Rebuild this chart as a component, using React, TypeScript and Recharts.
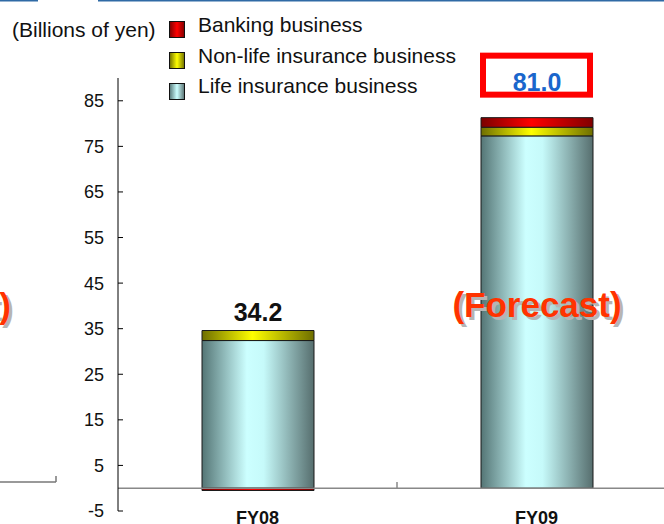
import React from "react";
import { BarChart, Bar, XAxis, YAxis, ReferenceLine, LabelList } from "recharts";

const years = ["FY08", "FY09"];
const lifeValues = [32.4, 77.3];
const nonLifeValues = [2.2, 1.9];
const bankingValues = [-0.5, 2.1];
const totalLabels = ["34.2", "81.0"];
const yTicks = [-5, 5, 15, 25, 35, 45, 55, 65, 75, 85];

const legendItems = [
  { label: "Banking business", grad: "lgRed" },
  { label: "Non-life insurance business", grad: "lgYellow" },
  { label: "Life insurance business", grad: "lgLife" },
];

const data = years.map((name, i) => ({
  name,
  life: lifeValues[i],
  nonLife: nonLifeValues[i],
  banking: bankingValues[i],
}));

const FONT = "Arial, 'Liberation Sans', sans-serif";
const CHART_W = 676;
const CHART_H = 524;
const Y_W = 118;
const BAND = (CHART_W - Y_W) / years.length;

const YTick = (props: any) => {
  const { x, y, payload } = props;
  return (
    <g>
      <line x1={x + 14} x2={x + 19} y1={y} y2={y} stroke="#000" />
      <text x={x} y={y} dy="0.36em" textAnchor="end" fontSize={18} fontFamily={FONT} fill="#111">
        {payload.value}
      </text>
    </g>
  );
};

const XTick = (props: any) => {
  const { x, y, payload, index } = props;
  return (
    <g>
      <text x={x} y={y + 13} textAnchor="middle" fontSize={18} fontWeight="bold" fontFamily={FONT} fill="#111">
        {payload.value}
      </text>
      {index < years.length - 1 && (
        <line x1={x + BAND / 2} x2={x + BAND / 2} y1={y - 29} y2={y - 23} stroke="#888" strokeWidth={1.5} />
      )}
    </g>
  );
};

const rectOf = (props: any) => {
  const vb = props.viewBox || {};
  return {
    x: props.x ?? vb.x,
    y: props.y ?? vb.y,
    width: props.width ?? vb.width,
  };
};

// FY08 total sits on the non-life segment
const Label08 = (props: any) => {
  if (props.value !== years[0]) return null;
  const { x, y, width } = rectOf(props);
  return (
    <text x={x + width / 2} y={y - 10} textAnchor="middle" fontSize={25} fontWeight="bold" fontFamily={FONT} fill="#111">
      {totalLabels[0]}
    </text>
  );
};

// FY09 total in the red box above the banking segment
const Label09 = (props: any) => {
  if (props.value !== years[1]) return null;
  const { x, y, width } = rectOf(props);
  return (
    <g>
      <rect x={x + 2} y={y - 62} width={width - 5} height={39} fill="#fff" stroke="#ff0000" strokeWidth={6} />
      <text x={x + width / 2} y={y - 27} textAnchor="middle" fontSize={25} fontWeight="bold" fontFamily={FONT} fill="#1a66cc">
        {totalLabels[1]}
      </text>
    </g>
  );
};

const gradients = (
  <defs>
    <linearGradient id="lgLife" x1="0" y1="0" x2="1" y2="0">
      <stop offset="0" stopColor="#547575" />
      <stop offset="0.4" stopColor="#ccffff" />
      <stop offset="0.55" stopColor="#c6fafa" />
      <stop offset="1" stopColor="#566e6e" />
    </linearGradient>
    <linearGradient id="lgYellow" x1="0" y1="0" x2="1" y2="0">
      <stop offset="0" stopColor="#6e6e00" />
      <stop offset="0.45" stopColor="#ffff00" />
      <stop offset="1" stopColor="#6e6e00" />
    </linearGradient>
    <linearGradient id="lgRed" x1="0" y1="0" x2="1" y2="0">
      <stop offset="0" stopColor="#7a0000" />
      <stop offset="0.45" stopColor="#ff0000" />
      <stop offset="1" stopColor="#800000" />
    </linearGradient>
  </defs>
);

const App = () => {
  return (
    <div style={{ position: "absolute", left: 0, top: 0, width: 664, height: 524, overflow: "hidden", background: "#fff" }}>
      <BarChart
        width={CHART_W}
        height={CHART_H}
        data={data}
        stackOffset="sign"
        barSize={112}
        margin={{ top: 78, right: 0, bottom: 0, left: 0 }}
      >
        {gradients}
        <XAxis
          dataKey="name"
          height={13}
          axisLine={false}
          tickLine={false}
          tickSize={0}
          tickMargin={0}
          interval={0}
          tick={XTick}
        />
        <YAxis
          type="number"
          domain={[-5, 90]}
          ticks={yTicks}
          interval={0}
          width={Y_W}
          tickSize={0}
          tickMargin={14}
          tickLine={false}
          axisLine={{ stroke: "#000" }}
          tick={YTick}
        />
        <ReferenceLine y={0} stroke="#888" strokeWidth={1.5} />
        <Bar dataKey="life" stackId="a" fill="url(#lgLife)" stroke="#1a1a1a" strokeWidth={1} isAnimationActive={false} />
        <Bar dataKey="nonLife" stackId="a" fill="url(#lgYellow)" stroke="#1a1a1a" strokeWidth={1} isAnimationActive={false}>
          <LabelList dataKey="name" content={Label08} />
        </Bar>
        <Bar dataKey="banking" stackId="a" fill="url(#lgRed)" stroke="#1a1a1a" strokeWidth={1} isAnimationActive={false}>
          <LabelList dataKey="name" content={Label09} />
        </Bar>
      </BarChart>

      <svg width={664} height={524} style={{ position: "absolute", left: 0, top: 0, pointerEvents: "none" }}>
        <defs>
          <linearGradient id="lgLife2" x1="0" y1="0" x2="1" y2="0">
            <stop offset="0" stopColor="#567777" />
            <stop offset="0.5" stopColor="#ccffff" />
            <stop offset="1" stopColor="#587070" />
          </linearGradient>
          <linearGradient id="lgYellow2" x1="0" y1="0" x2="1" y2="0">
            <stop offset="0" stopColor="#6e6e00" />
            <stop offset="0.5" stopColor="#ffff00" />
            <stop offset="1" stopColor="#6e6e00" />
          </linearGradient>
          <linearGradient id="lgRed2" x1="0" y1="0" x2="1" y2="0">
            <stop offset="0" stopColor="#7a0000" />
            <stop offset="0.5" stopColor="#ff0000" />
            <stop offset="1" stopColor="#800000" />
          </linearGradient>
        </defs>
        <rect x={0} y={0} width={38} height={1.5} fill="#2f6aa5" />
        <rect x={98} y={0} width={566} height={1.5} fill="#2f6aa5" />

        <text x={12} y={37} fontSize={21} fontFamily={FONT} fill="#111">
          (Billions of yen)
        </text>
        {legendItems.map((it, i) => (
          <g key={it.label}>
            <rect x={169.5} y={21.5 + i * 31} width={15} height={16} fill={`url(#${it.grad}2)`} stroke="#111" />
            <text x={198} y={32 + i * 30.5} fontSize={21} fontFamily={FONT} fill="#111">
              {it.label}
            </text>
          </g>
        ))}

        <line x1={0} x2={56} y1={482} y2={482} stroke="#777" strokeWidth={1.5} />
        <line x1={56} x2={56} y1={476} y2={482} stroke="#777" strokeWidth={1.5} />

        <text x={14} y={321} textAnchor="end" fontSize={35} fontWeight="bold" fontFamily={FONT} fill="#b5b5b5">
          (Forecast)
        </text>
        <text x={11} y={318} textAnchor="end" fontSize={35} fontWeight="bold" fontFamily={FONT} fill="#ff3300">
          (Forecast)
        </text>
        <text x={540} y={320} textAnchor="middle" fontSize={35} fontWeight="bold" fontFamily={FONT} fill="#b5b5b5">
          (Forecast)
        </text>
        <text x={537} y={317} textAnchor="middle" fontSize={35} fontWeight="bold" fontFamily={FONT} fill="#ff3300">
          (Forecast)
        </text>
      </svg>
    </div>
  );
};

export default App;
